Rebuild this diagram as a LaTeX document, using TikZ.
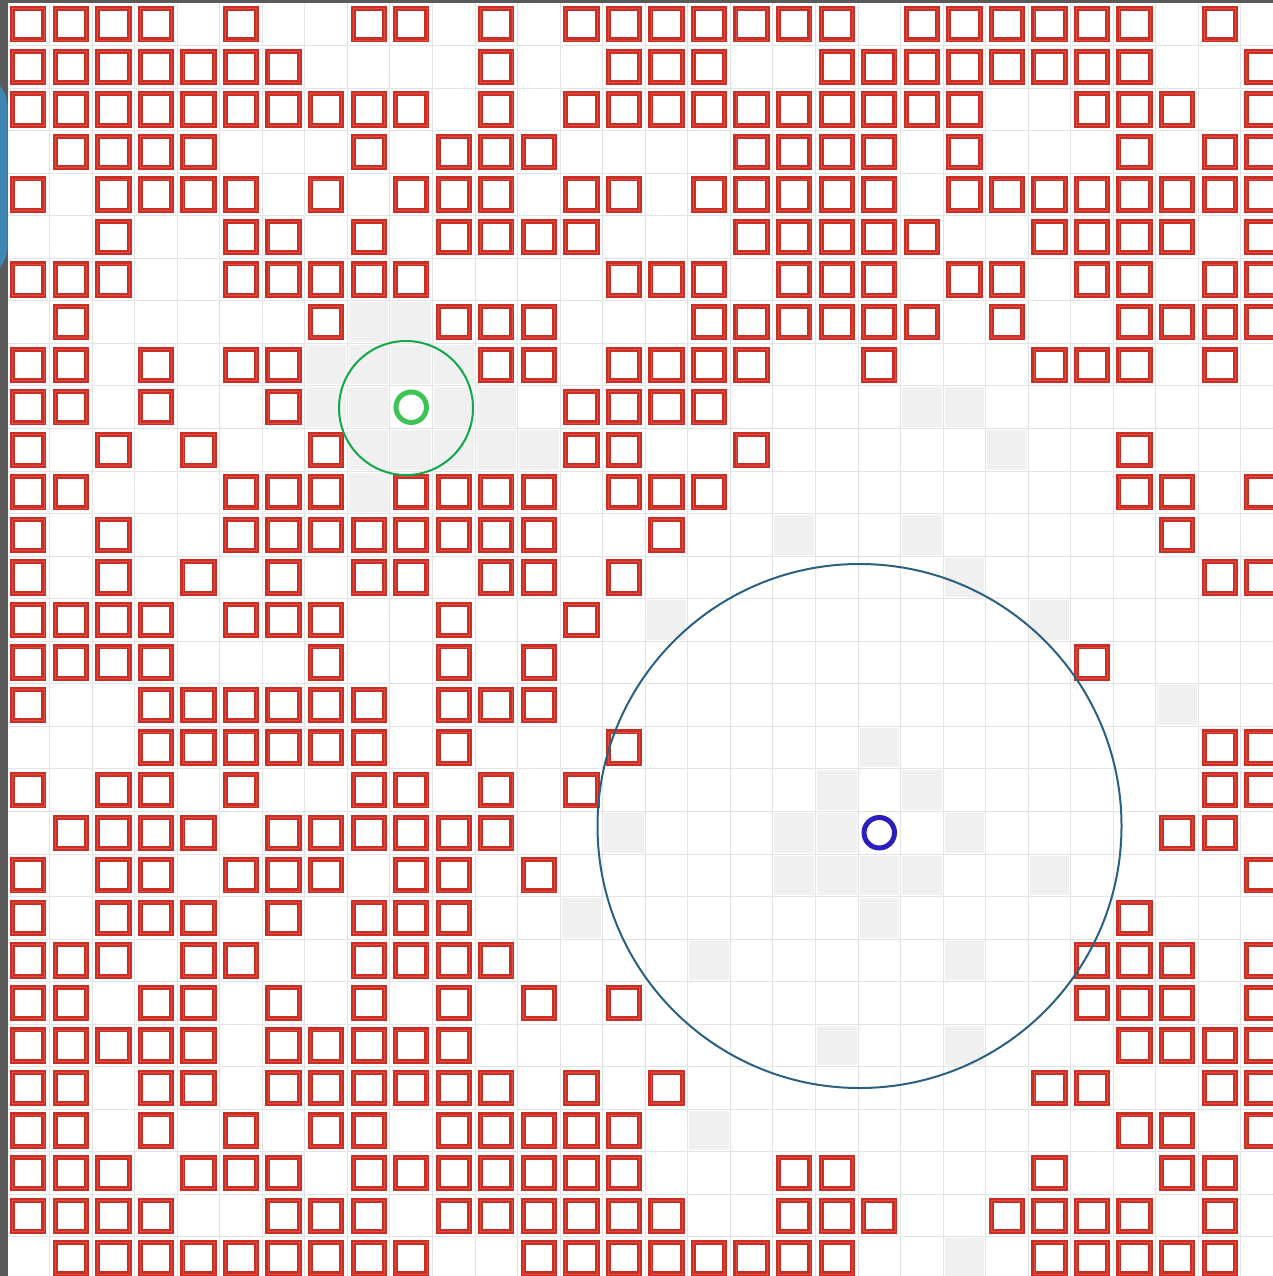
\documentclass[tikz,border=0pt]{standalone}
\definecolor{sqred}{RGB}{205,46,36}
\definecolor{sqredlight}{RGB}{216,78,68}
\definecolor{cellgray}{RGB}{240,240,240}
\definecolor{gridgray}{RGB}{228,228,228}
\definecolor{ringgreen}{RGB}{18,168,74}
\definecolor{dotgreen}{RGB}{62,196,82}
\definecolor{ringblue}{RGB}{42,96,128}
\definecolor{dotblue}{RGB}{42,32,192}
\definecolor{edgegray}{RGB}{90,90,90}
\definecolor{edgeblue}{RGB}{62,134,180}
\tikzset{
  redsq/.style={rectangle, draw=sqred, line width=2.2pt, double=sqredlight, double distance=0.6pt, minimum size=31.3pt, inner sep=0pt},
  graycell/.style={fill=cellgray},
  gridline/.style={draw=gridgray, line width=1pt},
  bigring/.style={circle, inner sep=0pt, line width=2pt},
  dotring/.style={circle, inner sep=0pt, minimum size=30.5pt, line width=5pt},
}
\begin{document}
\begin{tikzpicture}[x=1pt,y=-1pt]
\useasboundingbox (0,0) rectangle (1273,1276);
\clip (0,0) rectangle (1273,1276);
\fill[white] (0,0) rectangle (1273,1276);
% grid lines
\foreach \k in {0,...,30}{
  \draw[gridline] ({7+42.55*\k},3) -- ({7+42.55*\k},1276);
  \draw[gridline] (7,{3+42.55*\k}) -- (1273,{3+42.55*\k});
}
% gray (visited) cells: row/col
\foreach \r/\c in {7/8,7/9,8/7,8/8,8/9,8/10,9/7,9/8,9/10,9/11,9/21,9/22,
  10/8,10/9,10/10,10/11,10/12,10/23,11/8,12/18,12/21,13/22,14/15,14/24,
  16/27,17/20,18/19,18/21,19/14,19/18,19/19,19/22,
  20/18,20/19,20/20,20/21,20/24,21/13,21/20,22/16,22/22,24/19,24/22,26/16,29/22}{
  \fill[graycell] ({7+42.55*\c+1.5},{3+42.55*\r+1.5}) rectangle ++(39.55,39.55);
}
% red squares (obstacles)
\foreach \r/\cl in {
 0/{0,1,2,3,5,8,9,11,13,14,15,16,17,18,19,21,22,23,24,25,26,28},
 1/{0,1,2,3,4,5,6,11,14,15,16,19,20,21,22,23,24,25,26,29},
 2/{0,1,2,3,4,5,6,7,8,9,11,13,14,15,16,17,18,19,20,21,22,25,26,27,29},
 3/{1,2,3,4,8,10,11,12,17,18,19,20,22,26,28,29},
 4/{0,2,3,4,5,7,9,10,11,13,14,16,17,18,19,20,22,23,24,25,26,27,28,29},
 5/{2,5,6,8,10,11,12,13,17,18,19,20,21,24,25,26,27,29},
 6/{0,1,2,5,6,7,8,9,14,15,16,18,19,20,22,23,25,26,28,29},
 7/{1,7,10,11,12,16,17,18,19,20,21,23,26,27,28,29},
 8/{0,1,3,5,6,11,12,14,15,16,17,20,24,25,26,28},
 9/{0,1,3,6,13,14,15,16},
 10/{0,2,4,7,13,14,17,26},
 11/{0,1,5,6,7,9,10,11,12,14,15,16,26,27,29},
 12/{0,2,5,6,7,8,9,10,11,12,15,27},
 13/{0,2,4,6,8,9,11,12,14,28,29},
 14/{0,1,2,3,5,6,7,10,13},
 15/{0,1,2,3,7,10,12,25},
 16/{0,3,4,5,6,7,8,10,11,12},
 17/{3,4,5,6,7,8,10,14,28,29},
 18/{0,2,3,5,8,9,11,13,28,29},
 19/{1,2,3,4,6,7,8,9,10,11,27,28},
 20/{0,2,3,5,6,7,9,10,12,29},
 21/{0,2,3,4,6,8,9,10,26},
 22/{0,1,2,4,5,8,9,10,11,25,26,27,29},
 23/{0,1,3,4,6,8,10,12,14,25,26,27,29},
 24/{0,1,2,3,4,6,7,8,9,10,26,27,28,29},
 25/{0,1,3,4,6,7,8,9,10,11,13,15,24,25,28,29},
 26/{0,1,3,5,7,8,10,11,12,13,14,26,27,29},
 27/{0,1,2,4,5,6,8,9,10,11,12,13,14,18,19,24,27,28},
 28/{0,1,2,3,6,7,8,10,11,12,13,14,15,18,19,20,23,24,25,26,28},
 29/{1,2,3,4,5,6,7,8,9,12,13,14,15,16,17,18,19,24,25,26,27,28}}{
  \foreach \c in \cl {
    \node[redsq] (sq-\r-\c) at ({7+42.55*(\c+0.5)},{3+42.55*(\r+0.5)}) {};
  }
}
% range circles
\node[bigring, draw=ringgreen, minimum size=134pt] (greenrange) at (406,408) {};
\node[bigring, draw=ringblue, minimum size=524pt] (bluerange) at (859.5,826) {};
% start / goal markers
\node[dotring, draw=dotgreen] (greendot) at ({7+42.55*9.5},{3+42.55*9.5}) {};
\node[dotring, draw=dotblue] (bluedot) at ({7+42.55*20.5},{3+42.55*19.5}) {};
% window edges
\fill[edgegray] (0,0) rectangle (1273,3);
\fill[edgegray] (0,0) rectangle (7.5,1276);
\fill[edgeblue] (0,86) .. controls (5,92) and (7.5,99) .. (7.5,110) -- (7.5,245) .. controls (7.5,256) and (4,262) .. (0,268) -- cycle;
\end{tikzpicture}
\end{document}
